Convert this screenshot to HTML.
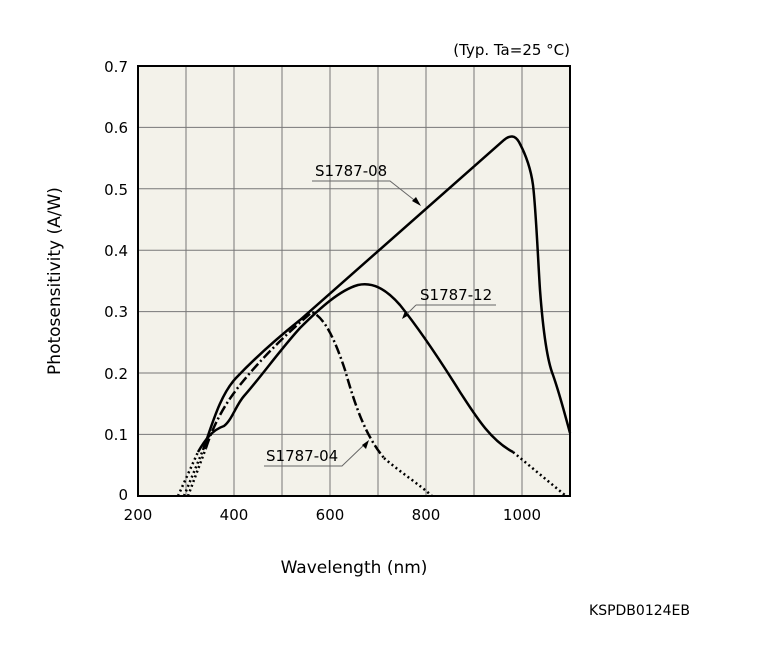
<!DOCTYPE html><html><head><style>body{margin:0;background:#fff}svg{display:block}text{font-family:"DejaVu Sans","Liberation Sans",sans-serif;fill:#000}</style></head><body>
<svg width="759" height="648" viewBox="0 0 759 648">
<rect x="138" y="66" width="432" height="430" fill="#f3f2ea"/>
<g stroke="#777" stroke-width="1">
<line x1="186" y1="66" x2="186" y2="496"/><line x1="234" y1="66" x2="234" y2="496"/><line x1="282" y1="66" x2="282" y2="496"/><line x1="330" y1="66" x2="330" y2="496"/><line x1="378" y1="66" x2="378" y2="496"/><line x1="426" y1="66" x2="426" y2="496"/><line x1="474" y1="66" x2="474" y2="496"/><line x1="522" y1="66" x2="522" y2="496"/>
<line x1="138" y1="127.4" x2="570" y2="127.4"/><line x1="138" y1="188.8" x2="570" y2="188.8"/><line x1="138" y1="250.2" x2="570" y2="250.2"/><line x1="138" y1="311.6" x2="570" y2="311.6"/><line x1="138" y1="373" x2="570" y2="373"/><line x1="138" y1="434.4" x2="570" y2="434.4"/>
</g>
<rect x="138" y="66" width="432" height="430" fill="none" stroke="#000" stroke-width="2"/>
<g fill="none" stroke="#000" stroke-width="2.5">
<path d="M184,496 L203,450" stroke-dasharray="2,3"/>
<path d="M203,450 C212,425 220,395 236,378 C255,358 275,340 300,320 L504,140 C510,135 515,135 519,142 C526,155 531,170 533,185 C536,210 538,260 540,290 C543,330 547,360 553,375 C560,395 565,415 570,433"/>
<path d="M178,496 L198,452" stroke-dasharray="2,3"/>
<path d="M198,452 C205,440 212,430 224,426 C232,420 236,405 244,396 C260,378 280,350 300,328 C320,308 340,290 358,285 C372,282 385,288 400,305 C420,330 440,360 460,392 C475,415 490,440 513,452"/>
<path d="M513,452 L566,496" stroke-dasharray="2,3"/>
<path d="M188,496 L206,448" stroke-dasharray="2,3"/>
<path d="M206,448 C215,420 228,400 240,385 C260,360 285,335 312,312 C325,318 335,340 345,370 C355,405 365,435 384,458" stroke-dasharray="10,3,2,3"/>
<path d="M384,458 C400,472 420,485 432,496" stroke-dasharray="2,3"/>
</g>
<g stroke="#666" stroke-width="1" fill="none">
<path d="M312,181 L390,181 L418,203"/><path d="M416,305 L496,305"/><path d="M416,305 L405,316"/><path d="M264,466 L342,466 L366,443"/>
</g>
<g fill="#000"><path d="M421,206 L412,201 L416,197Z"/><path d="M402,319 L405,311 L409,315Z"/><path d="M369,440 L366,449 L362,445Z"/></g>
<g font-size="15">
<text x="315" y="176">S1787-08</text><text x="420" y="300">S1787-12</text><text x="266" y="461">S1787-04</text>
<text x="570" y="55" text-anchor="end">(Typ. Ta=25 °C)</text>
</g>
<g font-size="15" text-anchor="end">
<text x="128" y="72">0.7</text><text x="128" y="133">0.6</text><text x="128" y="195">0.5</text><text x="128" y="256">0.4</text><text x="128" y="317">0.3</text><text x="128" y="379">0.2</text><text x="128" y="440">0.1</text><text x="128" y="500">0</text>
</g>
<g font-size="15" text-anchor="middle">
<text x="138" y="520">200</text><text x="234" y="520">400</text><text x="330" y="520">600</text><text x="426" y="520">800</text><text x="522" y="520">1000</text>
</g>
<text x="354" y="573" font-size="17" text-anchor="middle">Wavelength (nm)</text>
<text transform="translate(60,281) rotate(-90)" font-size="17" text-anchor="middle">Photosensitivity (A/W)</text>
<text x="690" y="615" font-size="14" text-anchor="end">KSPDB0124EB</text>
</svg></body></html>
